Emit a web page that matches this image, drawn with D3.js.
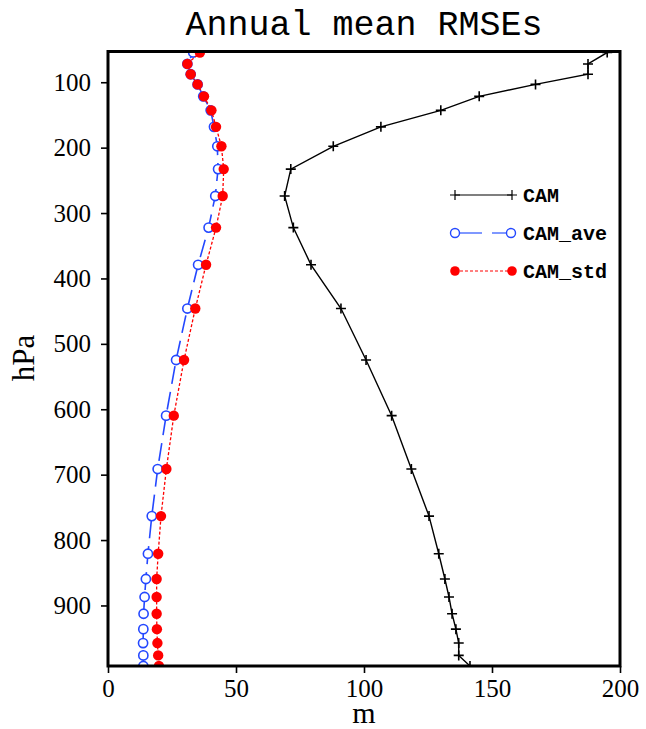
<!DOCTYPE html>
<html>
<head>
<meta charset="utf-8">
<script src="https://cdn.jsdelivr.net/npm/d3@7"></script>
<style>
  body { margin: 0; background: #fff; }
  svg { display: block; }
</style>
</head>
<body>
<svg id="chart"></svg>
<script>
// pressure levels (hPa) - top level is outside the plot and gets clipped
var levels = [38.27, 54.6, 72.01, 87.82, 103.32, 121.55, 142.99, 168.23, 197.91, 232.83, 273.91,
    322.24, 379.1, 445.99, 524.69, 609.78, 691.39, 763.4, 820.86, 859.53, 887.02,
    912.64, 936.2, 957.49, 976.33, 992.56];

var camVals = [224, 195, 187.5, 187.5, 167, 145, 130, 106.6, 88, 71.4, 69,
    72.4, 79.3, 91, 100.8, 110.8, 118.5, 125.4, 129.2, 131.6, 133.2,
    134.4, 135.9, 137, 137, 141.4];

var aveVals = [31.5, 33.3, 31, 32.3, 35, 37.2, 40.1, 41.4, 42.7, 43, 41.9,
    39.3, 35.2, 31, 26.6, 22.7, 19.4, 17.1, 15.6, 14.8, 14.3,
    13.9, 13.8, 13.7, 13.8, 13.8];

var stdVals = [37.5, 35.9, 31, 32.3, 35, 37.5, 40.4, 42.2, 44.3, 45.2, 44.8,
    42.2, 38.3, 34.1, 29.7, 25.7, 22.8, 20.7, 19.6, 19, 19,
    19, 19.1, 19.3, 19.6, 19.9];

var seriesNames = ["CAM", "CAM_ave", "CAM_std"];
var xTicks = [0, 50, 100, 150, 200];
var yTicks = [100, 200, 300, 400, 500, 600, 700, 800, 900];

var width = 646, height = 729;
// plot frame in pixels ("top" is a reserved global, so prefix these)
var plotL = 108, plotR = 620, plotT = 51.5, plotB = 666;

var blue = "#2448ff";
var red = "#ff0000";

var svg = d3.select("#chart")
    .attr("width", width)
    .attr("height", height);

var x = d3.scaleLinear().domain([0, 200]).range([plotL, plotR]);
var y = d3.scaleLinear().domain([53, 992.56]).range([plotT, plotB]);

svg.append("defs").append("clipPath")
    .attr("id", "plotClip")
    .append("rect")
    .attr("x", plotL).attr("y", plotT)
    .attr("width", plotR - plotL).attr("height", plotB - plotT);

var plot = svg.append("g").attr("clip-path", "url(#plotClip)");

function lineFor(vals) {
    return d3.line()
        .x(function (d, i) { return x(vals[i]); })
        .y(function (d) { return y(d); })(levels);
}

// CAM - solid black with + markers
plot.append("path")
    .attr("d", lineFor(camVals))
    .attr("fill", "none")
    .attr("stroke", "#000")
    .attr("stroke-width", 1.4);

plot.selectAll(".cam")
    .data(levels)
    .enter()
    .append("path")
    .attr("class", "cam")
    .attr("d", function (d, i) {
        var cx = x(camVals[i]), cy = y(d);
        return "M" + (cx - 5) + "," + cy + "H" + (cx + 5) + "M" + cx + "," + (cy - 5) + "V" + (cy + 5);
    })
    .attr("stroke", "#000")
    .attr("stroke-width", 1.6);

// CAM_ave - long dashes with open circles
plot.append("path")
    .attr("d", lineFor(aveVals))
    .attr("fill", "none")
    .attr("stroke", blue)
    .attr("stroke-width", 1.6)
    .attr("stroke-dasharray", "18,8");

plot.selectAll(".ave")
    .data(levels)
    .enter()
    .append("circle")
    .attr("class", "ave")
    .attr("cx", function (d, i) { return x(aveVals[i]); })
    .attr("cy", function (d) { return y(d); })
    .attr("r", 4.6)
    .attr("fill", "#fff")
    .attr("stroke", blue)
    .attr("stroke-width", 1.6);

// CAM_std - short red dashes with filled dots
plot.append("path")
    .attr("d", lineFor(stdVals))
    .attr("fill", "none")
    .attr("stroke", red)
    .attr("stroke-width", 1.3)
    .attr("stroke-dasharray", "3,2");

plot.selectAll(".std")
    .data(levels)
    .enter()
    .append("circle")
    .attr("class", "std")
    .attr("cx", function (d, i) { return x(stdVals[i]); })
    .attr("cy", function (d) { return y(d); })
    .attr("r", 5.2)
    .attr("fill", red);

// frame
svg.append("rect")
    .attr("x", plotL).attr("y", plotT)
    .attr("width", plotR - plotL).attr("height", plotB - plotT)
    .attr("fill", "none")
    .attr("stroke", "#000")
    .attr("stroke-width", 3);

// axes
var xAxis = svg.append("g")
    .attr("transform", "translate(0," + plotB + ")")
    .call(d3.axisBottom(x).tickValues(xTicks).tickSize(7).tickPadding(6).tickFormat(d3.format("d")));

var yAxis = svg.append("g")
    .attr("transform", "translate(" + plotL + ",0)")
    .call(d3.axisLeft(y).tickValues(yTicks).tickSize(7).tickPadding(10).tickFormat(d3.format("d")));

[xAxis, yAxis].forEach(function (ax) {
    ax.select(".domain").remove();
    ax.selectAll(".tick line").attr("stroke", "#000").attr("stroke-width", 1.6);
    ax.selectAll(".tick text")
        .attr("fill", "#000")
        .style("font-family", "'Liberation Serif', serif")
        .style("font-size", "25px");
});

// titles
svg.append("text")
    .attr("x", (plotL + plotR) / 2)
    .attr("y", 35)
    .attr("text-anchor", "middle")
    .style("font-family", "'Liberation Mono', monospace")
    .style("font-size", "35px")
    .text("Annual mean RMSEs");

svg.append("text")
    .attr("x", (plotL + plotR) / 2)
    .attr("y", 723)
    .attr("text-anchor", "middle")
    .style("font-family", "'Liberation Serif', serif")
    .style("font-size", "30px")
    .text("m");

svg.append("text")
    .attr("transform", "translate(34,358) rotate(-90)")
    .attr("text-anchor", "middle")
    .style("font-family", "'Liberation Serif', serif")
    .style("font-size", "31px")
    .text("hPa");

// legend
var legendY = [195, 233, 271];
var legend = svg.append("g");

legend.append("line")
    .attr("x1", 455).attr("x2", 512)
    .attr("y1", legendY[0]).attr("y2", legendY[0])
    .attr("stroke", "#000").attr("stroke-width", 1.2);
[455, 512].forEach(function (lx) {
    legend.append("path")
        .attr("d", "M" + (lx - 5) + "," + legendY[0] + "H" + (lx + 5) +
            "M" + lx + "," + (legendY[0] - 5) + "V" + (legendY[0] + 5))
        .attr("stroke", "#000").attr("stroke-width", 1.2);
});

legend.append("line")
    .attr("x1", 460).attr("x2", 507)
    .attr("y1", legendY[1]).attr("y2", legendY[1])
    .attr("stroke", "#5577ff").attr("stroke-width", 1.6)
    .attr("stroke-dasharray", "22,10");
[455, 511].forEach(function (lx) {
    legend.append("circle")
        .attr("cx", lx).attr("cy", legendY[1]).attr("r", 4.5)
        .attr("fill", "#fff").attr("stroke", blue).attr("stroke-width", 1.4);
});

legend.append("line")
    .attr("x1", 455).attr("x2", 512)
    .attr("y1", legendY[2]).attr("y2", legendY[2])
    .attr("stroke", red).attr("stroke-width", 1)
    .attr("stroke-dasharray", "3,2");
[455, 512].forEach(function (lx) {
    legend.append("circle")
        .attr("cx", lx).attr("cy", legendY[2]).attr("r", 4.8)
        .attr("fill", red);
});

legend.selectAll("text")
    .data(seriesNames)
    .enter()
    .append("text")
    .attr("x", 523)
    .attr("y", function (d, i) { return legendY[i]; })
    .attr("dy", "0.35em")
    .style("font-family", "'Liberation Mono', monospace")
    .style("font-weight", "bold")
    .style("font-size", "20px")
    .text(function (d) { return d; });
</script>
</body>
</html>
